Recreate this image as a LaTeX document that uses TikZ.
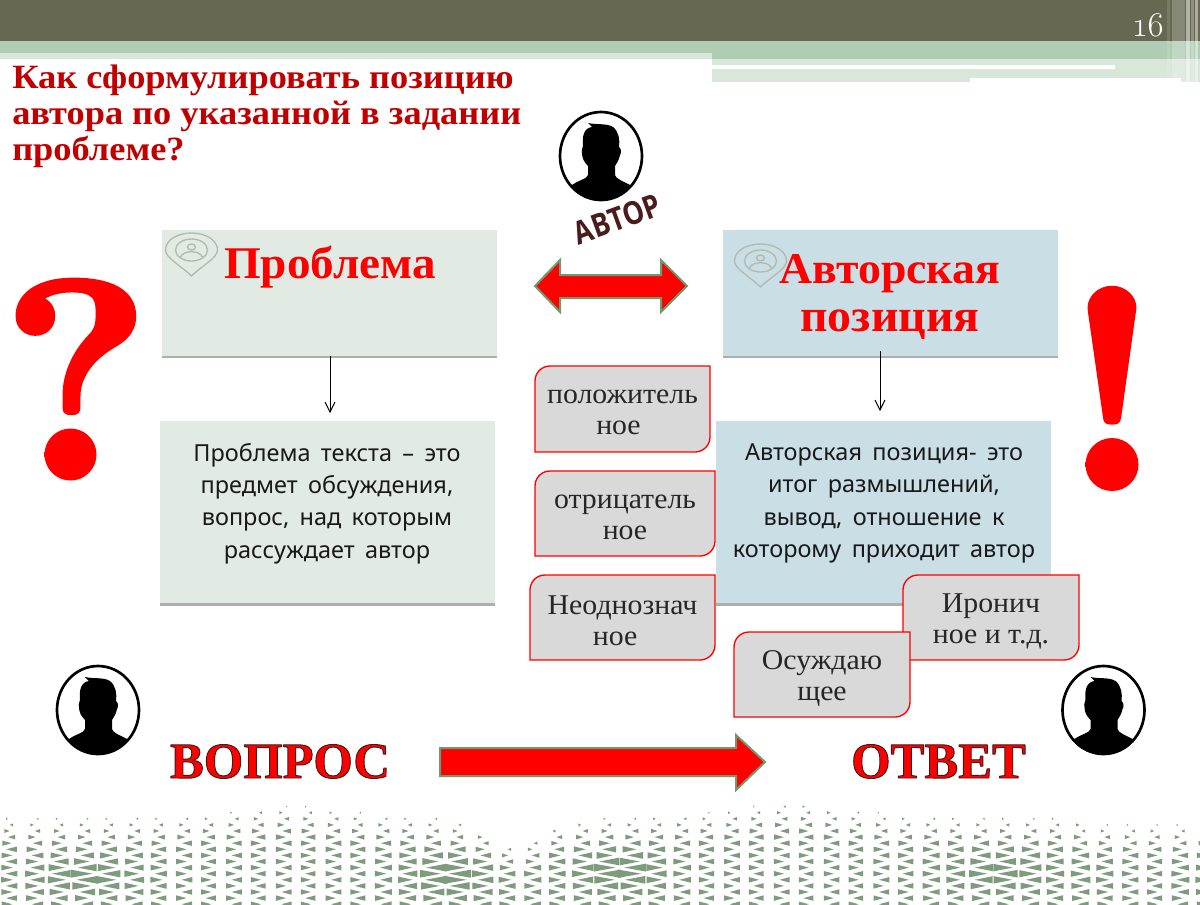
\documentclass[tikz,border=0pt]{standalone}
\usepackage{fontspec}
\setmainfont{Liberation Serif}
\newfontfamily\sansf[WordSpace=1.7]{Noto Sans}
\newfontfamily\artf[FakeStretch=0.84]{Open Sans Bold}
\newfontfamily\titlef[FakeStretch=1.07]{Liberation Serif Bold}
\newfontfamily\headf[FakeStretch=1.04]{Liberation Serif Bold}
\newfontfamily\smallf[FakeStretch=1.04]{Liberation Serif}
\newfontfamily\boldf{Liberation Serif Bold}
\newfontfamily\markf{lmroman10-bold.otf}
\newfontfamily\numf[Numbers=OldStyle]{Latin Modern Roman}
\usetikzlibrary{shadows,calc}
\definecolor{olivebar}{HTML}{666851}
\definecolor{greenbar}{HTML}{B0CCB3}
\definecolor{lightbar}{HTML}{D9E6DA}
\definecolor{probfill}{HTML}{E2EBE3}
\definecolor{posfill}{HTML}{CADEE6}
\definecolor{titlered}{HTML}{C00000}
\definecolor{arrowedge}{HTML}{6E9A70}
\definecolor{pinline}{HTML}{B3BAAD}
\definecolor{tricol}{HTML}{7F9B7E}
\definecolor{artcol}{HTML}{4B1C1C}
\newcommand{\pxfont}[2]{\fontsize{#1}{#2}\selectfont}
\newcommand{\outlined}[2]{\special{pdf:code #1 RG 1 j 2 Tr #2 w}}
\newcommand{\outlineoff}{\special{pdf:code 0 Tr}}
\pgfdeclareradialshading{ballred}{\pgfpoint{0bp}{12bp}}{color(0bp)=(red);color(32bp)=(red);color(46bp)=(red!78!black);color(62bp)=(red!42!black);color(100bp)=(red!42!black)}
\pgfmathdeclarefunction{bu}{1}{\pgfmathparse{(1/(1+#1*#1))*(1/(1+#1*#1))}}
\pgfmathdeclarefunction{bd}{2}{\pgfmathparse{(1/(1+#1*#1+#2*#2))*(1/(1+#1*#1+#2*#2))}}
\newcommand{\onetri}[3]{%
  \pgfmathsetmacro\tp{818-12*bu((#1-290)/110)+30*bu((#1-515)/45)-15*bu((#1-790)/110)+(#1>1080?6:0)}%
  \pgfmathsetmacro\tt{(#2-\tp)/30}%
  \pgfmathsetmacro\ss{\tt<0?0:(0.05+0.38*min(\tt,1)
     +0.54*bd((#1-85)/60,(#2-877)/22)
     +0.62*bd((#1-448)/48,(#2-877)/24)
     +0.66*bd((#1-620)/48,(#2-872)/24)
     +0.46*bd((#1-1000)/60,(#2-873)/24)
     +0.15*bd((#1-1090)/30,(#2-878)/20)
     +0.20*bd((#1-1195)/25,(#2-880)/20))}%
  \pgfmathsetmacro\ww{11.5*\ss*#3}%
  \pgfmathsetmacro\hh{4.1*sqrt(\ss)}%
  \ifdim\ss pt>0.04pt
    \fill[tricol] (#1-\ww,#2-\hh) -- (#1+\ww,#2) -- (#1-\ww,#2+\hh) -- cycle;
  \fi}
\tikzset{
  x=0.75pt,y=-0.75pt,
  mainbox/.style={inner sep=0,minimum width=335*0.75pt,drop shadow={shadow xshift=0pt,shadow yshift=-2.2pt,opacity=.45,fill=black!70}},
  smallbox/.style={draw=red,line width=1pt,fill=black!15},
  smalltext/.style={align=center,inner sep=0,text=black!85,font=\smallf\pxfont{21.5}{23.25}},
  deftext/.style={align=center,inner sep=0,text=black!90,font=\sansf\pxfont{17.6}{24.3}},
  bigarrow/.style={fill=red,draw=arrowedge,line width=1.5pt},
  person/.pic={
    \draw[black,fill=white,line width=2pt] (0,0) ellipse [x radius=41*0.75pt,y radius=44*0.75pt];
    \begin{scope}
      \clip (0,0) ellipse [x radius=41*0.75pt,y radius=44*0.75pt];
      \fill[black] (-45,40) -- (-29,29) .. controls (-22,24) and (-14,23) .. (-13,19) -- (-13,10)
        .. controls (-17,6) and (-19,2) .. (-19,-3) .. controls (-20,-7) and (-18,-8) .. (-18,-10)
        .. controls (-19,-20) and (-17,-28) .. (-9,-29) -- (-13,-33) .. controls (-5,-31) and (6,-33) .. (12,-29)
        .. controls (18,-24) and (19,-16) .. (18,-9) .. controls (21,-7) and (20,-2) .. (19,-1)
        .. controls (18,4) and (16,7) .. (14,10) -- (14,19) .. controls (15,23) and (22,25) .. (29,29)
        -- (45,40) -- (45,60) -- (-45,60) -- cycle;
    \end{scope}
  },
  pin/.pic={
    \begin{scope}[draw=pinline,line width=1pt]
      \draw (0,23) .. controls (-10,13) and (-26,5) .. (-26,-3)
        .. controls (-26,-13) and (-14,-20) .. (0,-20)
        .. controls (14,-20) and (26,-13) .. (26,-3)
        .. controls (26,5) and (10,13) .. (0,23) -- cycle;
      \draw (0,-3) ellipse [x radius=16*0.75pt,y radius=11*0.75pt];
      \draw (0,-6) ellipse [x radius=4*0.75pt,y radius=3*0.75pt];
      \draw (-11,4) .. controls (-8,-3) and (8,-3) .. (11,4);
    \end{scope}
  }
}
\newcommand{\twocorner}[4]{%
  \path[smallbox] (#1,#2+15) arc[start angle=180,end angle=90,radius=15*0.75pt] -- (#3,#2) -- (#3,#4-15) arc[start angle=0,end angle=-90,radius=15*0.75pt] -- (#1,#4) -- cycle;}
\begin{document}
\begin{tikzpicture}
\useasboundingbox (0,0) rectangle (1200,904);
\fill[white] (0,0) rectangle (1200,904);
% header
\fill[lightbar] (712,59) rectangle (1200,82);
\fill[white] (712,65) rectangle (1115,69);
\fill[white] (970,78) rectangle (1181,82);
\fill[olivebar] (0,0) rectangle (1200,41);
\fill[greenbar] (0,41) rectangle (1200,59);
\fill[lightbar] (0,53) rectangle (712,59);
\fill[white,opacity=.12] (1167,0) rectangle (1170,82);
\fill[white,opacity=.22] (1172,0) rectangle (1185,82);
\fill[white,opacity=.5] (1186,0) rectangle (1190,82);
\fill[white,opacity=.28] (1191,0) rectangle (1194,82);
\fill[white,opacity=.45] (1195,0) rectangle (1198,82);
\node[text=white,inner sep=0,anchor=base east] (num) at (1165,36) {\numf\pxfont{26}{28}16};
% bottom pattern
\foreach \k in {-5,...,12}{
  \pgfmathsetmacro\yy{831+6.1*\k}
  \pgfmathtruncatemacro\odd{mod(abs(\k),2)}
  \foreach \j in {-1,...,24}{
    \ifnum\odd=0
      \pgfmathsetmacro\xa{7+49.8*\j}\pgfmathsetmacro\xb{37.5+49.8*\j}
    \else
      \pgfmathsetmacro\xa{32+49.8*\j}\pgfmathsetmacro\xb{11.5+49.8*\j}
    \fi
    \onetri{\xa}{\yy}{1}
    \onetri{\xb}{\yy}{-1}
  }
}
% title
\node[anchor=base west,align=left,inner sep=0,text=titlered,font=\titlef\pxfont{25.5}{27}] (title) at (12,160)
  {Как сформулировать позицию\\автора по указанной в задании\\проблеме?};
% question mark and exclamation mark
\node[inner sep=0,text=red,anchor=base] (qm) at (76,476) {\markf\pxfont{210}{210}\outlined{1 0 0}{3.5}?\outlineoff};
\node[inner sep=0,text=red,anchor=base] (em) at (1112,485.5) {\markf\pxfont{210}{210}\outlined{1 0 0}{3.5}!\outlineoff};
\shade[shading=ballred] (70.5,454.5) circle [radius=26*0.75pt];
\shade[shading=ballred] (1112,464.5) circle [radius=26.5*0.75pt];
% main boxes
\node[mainbox,fill=probfill,minimum height=126*0.75pt] (prob) at (329.5,292.5) {};
\node[mainbox,fill=posfill,minimum height=126*0.75pt] (pos) at (890,292.5) {};
\pic at (191.5,253) {pin};
\pic at (760.5,264) {pin};
\node[inner sep=0,text=red,anchor=base,font=\headf\pxfont{34}{36}] (probt) at (330,278) {Проблема};
\node[inner sep=0,text=red,anchor=base,font=\headf\pxfont{33}{36}] (post1) at (890,283) {Авторская};
\node[inner sep=0,text=red,anchor=base,font=\headf\pxfont{34.5}{36}] (post2) at (890,331) {позиция};
\node[mainbox,fill=probfill,minimum height=182*0.75pt] (probdef) at (327,512) {};
\node[mainbox,fill=posfill,minimum height=182*0.75pt] (posdef) at (883.5,512) {};
\node[deftext] (probdt) at (327,503.5) {Проблема текста – это\\предмет обсуждения,\\вопрос, над которым\\рассуждает автор};
\node[deftext] (posdt) at (884,503.5) {Авторская позиция- это\\итог размышлений,\\вывод, отношение к\\которому приходит автор};
\coordinate (a1) at (330,356);
\coordinate (a2) at (330,412);
\coordinate (b1) at (880,351);
\coordinate (b2) at (880,410);
\draw[black,line width=0.75pt] (a1) -- (a2);
\draw[black,line width=0.75pt] (325,402) -- (a2) -- (335,402);
\draw[black,line width=0.75pt] (b1) -- (b2);
\draw[black,line width=0.75pt] (875,400) -- (b2) -- (885,400);
% small boxes
\twocorner{535}{366}{710}{452}
\node[smalltext] (s1) at (622.5,412) {положитель\\ное\hspace*{6pt}};
\twocorner{535}{471}{715}{556}
\node[smalltext] (s2) at (625,517) {отрицатель\\ное};
\twocorner{530}{575}{715}{660}
\node[smalltext] (s3) at (622.5,621) {Неоднознач\\ное\hspace*{11pt}};
\twocorner{903}{575}{1079}{660}
\node[smalltext] (s4) at (991,621) {Иронич\\ное и т.д.};
\twocorner{734}{632}{910}{717}
\node[smalltext] (s5) at (822,678) {Осуждаю\\щее};
% arrows
\draw[bigarrow] (535,286) -- (560,260) -- (560,275) -- (661,275) -- (661,260) -- (687,286) -- (661,312) -- (661,298) -- (560,298) -- (560,312) -- cycle;
\draw[bigarrow] (440,748) -- (736,748) -- (736,735) -- (765,762) -- (736,790) -- (736,776) -- (440,776) -- cycle;
% people
\pic at (601,156) {person};
\pic at (98,710) {person};
\pic at (1103.5,710) {person};
\node[inner sep=0,text=artcol,rotate=20,font=\artf\pxfont{24}{26}] (avtor) at (617,219) {АВТОР};
\node[inner sep=0,text=red,anchor=base,font=\boldf\pxfont{38}{40}] (q) at (280,778) {\outlined{0.25 0.1 0.1}{0.7}ВОПРОС\outlineoff};
\node[inner sep=0,text=red,anchor=base,font=\boldf\pxfont{38}{40}] (a) at (938.5,778) {\outlined{0.25 0.1 0.1}{0.7}ОТВЕТ\outlineoff};
\end{tikzpicture}
\end{document}
